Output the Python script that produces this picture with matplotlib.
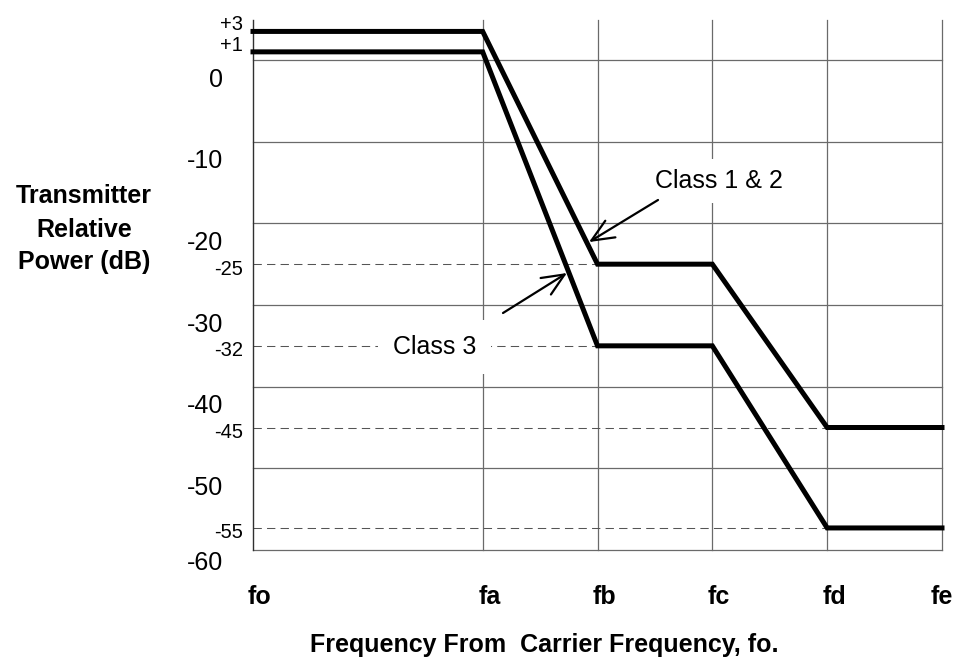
import matplotlib.pyplot as plt

plt.rcParams['font.family'] = ['Liberation Sans', 'DejaVu Sans']

# frequency break points (equal spacing after fa)
freq_labels = ['fo', 'fa', 'fb', 'fc', 'fd', 'fe']
freq_pos = [0, 2, 3, 4, 5, 6]

# mask levels as drawn in the figure (dB)
class12_db = [3.5, 3.5, -25, -25, -45, -45]
class3_db = [1, 1, -35, -35, -57.3, -57.3]

# dashed reference levels and the text written next to them
ref_levels = [-25, -35, -45, -57.3]
ref_labels = ['-25', '-32', '-45', '-55']
ref_ends = [3, 3, 5, 5]
top_levels = [3.5, 1]
top_labels = ['+3', '+1']

grid_db = [0, -10, -20, -30, -40, -50, -60]

grey = '#6a6a6a'

fig = plt.figure(figsize=(9.56, 6.57), dpi=100)
ax = fig.add_axes([253 / 956, 1 - 550 / 657, (942 - 253) / 956, (550 - 20) / 657])
ax.set_xlim(0, 6)
ax.set_ylim(-60, 4.9)
ax.set_xticks([])
ax.set_yticks([])
for s in ['top', 'right', 'bottom']:
    ax.spines[s].set_visible(False)
ax.spines['left'].set_color('#303030')
ax.spines['left'].set_linewidth(1.0)

# grid
for g in grid_db:
    ax.axhline(g, color=grey, lw=0.9, zorder=1, clip_on=False)
for f in freq_pos[1:]:
    ax.axvline(f, color=grey, lw=0.9, zorder=1, clip_on=False)

# dashed reference lines
for lvl, end in zip(ref_levels, ref_ends):
    ax.plot([0, end], [lvl, lvl], color='#555555', lw=0.75,
            linestyle=(0, (8, 5)), zorder=1)

# mask curves
ax.plot(freq_pos, class12_db, color='black', lw=3.6, solid_joinstyle='miter',
        solid_capstyle='projecting', clip_on=False, zorder=4)
ax.plot(freq_pos, class3_db, color='black', lw=3.6, solid_joinstyle='miter',
        solid_capstyle='projecting', clip_on=False, zorder=4)

# big y labels
for g in grid_db:
    yy = g - 2.4 if g > -60 else -61.6
    ax.text(-0.261, yy, str(g), ha='right', va='center', fontsize=18, clip_on=False)

# small labels
for lvl, lab in zip(top_levels, top_labels):
    ax.text(-0.087, lvl + 0.8, lab, ha='right', va='center', fontsize=14.5, clip_on=False)
for lvl, lab in zip(ref_levels, ref_labels):
    ax.text(-0.087, lvl - 0.6, lab, ha='right', va='center', fontsize=14.5, clip_on=False)

# frequency labels
for f, lab in zip(freq_pos, freq_labels):
    dx = 0.06 if f < 6 else 0.0
    ax.text(f + dx, -65.7, lab, ha='center', va='center', fontsize=18,
            fontweight='bold', clip_on=False)

# annotations
ax.text(4.058, -14.8, 'Class 1 & 2', ha='center', va='center', fontsize=18, zorder=2.5,
        bbox=dict(boxstyle='square,pad=0.4', fc='white', ec='none'))
ax.text(1.581, -35.14, 'Class 3', ha='center', va='center', fontsize=18, zorder=2.5,
        bbox=dict(boxstyle='square,pad=0.6', fc='white', ec='none'))
arrow = dict(arrowstyle='->,head_length=0.8,head_width=0.35', lw=1.6,
             color='black', mutation_scale=20, shrinkA=0, shrinkB=0)
ax.annotate('', xy=(2.926, -22.29), xytext=(3.527, -17.14), arrowprops=arrow, zorder=3)
ax.annotate('', xy=(2.734, -26.08), xytext=(2.177, -30.98), arrowprops=arrow, zorder=3)

# axis titles
for txt, base in zip(['Transmitter', 'Relative', 'Power (dB)'], [203, 237, 269]):
    fig.text(84 / 956, 1 - base / 657, txt, ha='center', va='baseline',
             fontsize=18, fontweight='bold')
fig.text(544 / 956, 1 - 652 / 657, 'Frequency From  Carrier Frequency, fo.',
         ha='center', va='baseline', fontsize=18, fontweight='bold')

fig.savefig('out.png', dpi=100)
